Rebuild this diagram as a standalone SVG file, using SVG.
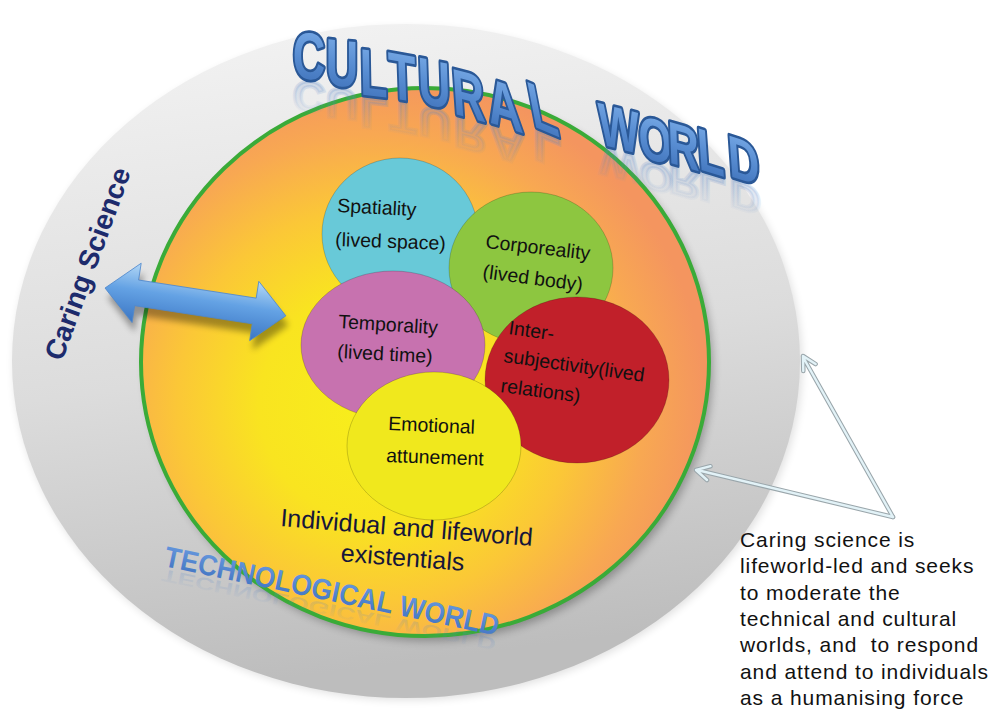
<svg xmlns="http://www.w3.org/2000/svg" width="994" height="710" viewBox="0 0 994 710">
<defs>
<style>
.lbl{font-family:"Liberation Sans",Arial,sans-serif;font-size:19.5px;fill:#111}
.ttl{font-family:"Liberation Sans",Arial,sans-serif;font-weight:bold;font-size:66px;fill:url(#titleG);stroke:#2a5897;stroke-width:5.5;stroke-linejoin:round;paint-order:stroke;text-anchor:middle}
.rfl{font-family:"Liberation Sans",Arial,sans-serif;font-weight:bold;font-size:66px;fill:url(#reflG);stroke:url(#reflG);stroke-width:5;text-anchor:middle}
.w{font-size:60px}
.note{font-family:"Liberation Sans",Arial,sans-serif;font-size:21px;letter-spacing:0.9px;fill:#111}
.ex{font-family:"Liberation Sans",Arial,sans-serif;font-size:25px;fill:#16163a;text-anchor:middle}
.ptr-o{fill:none;stroke:#9aa6ab;stroke-width:4.5;stroke-linecap:round;stroke-linejoin:round}
.ptr-i{fill:none;stroke:#e2f2f7;stroke-width:2.4;stroke-linecap:round;stroke-linejoin:round}
.circ{stroke:rgba(0,0,0,0.18);stroke-width:1}
</style>
<linearGradient id="grayG" x1="0" y1="0" x2="0.15" y2="1">
<stop offset="0" stop-color="#f4f4f4"/>
<stop offset="0.55" stop-color="#dcdcdc"/>
<stop offset="1" stop-color="#bdbdbd"/>
</linearGradient>
<radialGradient id="ringG" gradientUnits="userSpaceOnUse" cx="375" cy="405" r="330">
<stop offset="0" stop-color="#f7ef1b"/>
<stop offset="0.35" stop-color="#f9e420"/>
<stop offset="0.6" stop-color="#fbc737"/>
<stop offset="0.82" stop-color="#f8a852"/>
<stop offset="1" stop-color="#f4955f"/>
</radialGradient>
<linearGradient id="titleG" x1="0" y1="0" x2="0" y2="1">
<stop offset="0" stop-color="#7fb0ea"/>
<stop offset="0.5" stop-color="#588dd2"/>
<stop offset="1" stop-color="#3c6eb6"/>
</linearGradient>
<linearGradient id="reflG" x1="0" y1="0" x2="0" y2="1">
<stop offset="0" stop-color="#5a86c6" stop-opacity="0"/>
<stop offset="1" stop-color="#5a86c6" stop-opacity="0.26"/>
</linearGradient>
<linearGradient id="techG" x1="0" y1="0" x2="0" y2="1">
<stop offset="0" stop-color="#6a9be0"/>
<stop offset="1" stop-color="#3f72c0"/>
</linearGradient>
<linearGradient id="arrowG" x1="0" y1="0" x2="0" y2="1">
<stop offset="0" stop-color="#b4d8f6"/>
<stop offset="0.45" stop-color="#64a2e4"/>
<stop offset="1" stop-color="#3b76c4"/>
</linearGradient>
<filter id="blur4" x="-20%" y="-20%" width="140%" height="140%"><feGaussianBlur stdDeviation="4"/></filter>
<filter id="blur3" x="-20%" y="-20%" width="140%" height="140%"><feGaussianBlur stdDeviation="3"/></filter>
</defs>

<g id="outer-world">
<ellipse cx="408" cy="364" rx="394" ry="336" fill="#000" opacity="0.12" filter="url(#blur4)"/>
<ellipse cx="406" cy="361" rx="394" ry="337" fill="url(#grayG)"/>
</g>

<g id="lifeworld-ring">
<ellipse cx="429" cy="367" rx="284" ry="274" fill="#000" opacity="0.28" filter="url(#blur4)"/>
<ellipse cx="425" cy="362" rx="284" ry="274" fill="url(#ringG)" stroke="#3aab38" stroke-width="4"/>
</g>

<g id="cultural-world-title">
<g>
<text class="rfl" transform="matrix(0.68,0.0447,0,-0.65,309,82)">C</text>
<text class="rfl" transform="matrix(0.68,0.0673,0,-0.65,342,89)">U</text>
<text class="rfl" transform="matrix(0.68,0.0786,0,-0.65,374,99)">L</text>
<text class="rfl" transform="matrix(0.68,0.1244,0,-0.65,403,103)">T</text>
<text class="rfl" transform="matrix(0.68,0.1478,0,-0.65,435,109)">U</text>
<text class="rfl" transform="matrix(0.68,0.1835,0,-0.65,470,121)">R</text>
<text class="rfl" transform="matrix(0.72,0.2322,0,-0.65,507,131)">A</text>
<text class="rfl" transform="matrix(0.68,0.2849,0,-0.65,547,135)">L</text>
<text class="rfl w" transform="matrix(0.72,0.1795,0,-0.65,620,152)">W</text>
<text class="rfl w" transform="matrix(0.72,0.1929,0,-0.65,656,164)">O</text>
<text class="rfl w" transform="matrix(0.72,0.2064,0,-0.65,684,170)">R</text>
<text class="rfl w" transform="matrix(0.72,0.2201,0,-0.65,712,176)">L</text>
<text class="rfl w" transform="matrix(0.72,0.2339,0,-0.65,745,184)">D</text>
</g>
<g>
<text class="ttl" transform="matrix(0.68,0.0447,0,1,309,79)">C</text>
<text class="ttl" transform="matrix(0.68,0.0673,0,1,342,86)">U</text>
<text class="ttl" transform="matrix(0.68,0.0786,0.0175,1,374,96)">L</text>
<text class="ttl" transform="matrix(0.68,0.1244,0.0349,1,403,100)">T</text>
<text class="ttl" transform="matrix(0.68,0.1478,0.0349,1,435,106)">U</text>
<text class="ttl" transform="matrix(0.68,0.1835,0.0699,1,470,118)">R</text>
<text class="ttl" transform="matrix(0.72,0.2322,0.1228,1,507,128)">A</text>
<text class="ttl" transform="matrix(0.68,0.2849,0.1944,1,547,132)">L</text>
<text class="ttl w" transform="matrix(0.72,0.1795,0.0524,1,620,149)">W</text>
<text class="ttl w" transform="matrix(0.72,0.1929,0.0349,1,656,161)">O</text>
<text class="ttl w" transform="matrix(0.72,0.2064,0.0349,1,684,167)">R</text>
<text class="ttl w" transform="matrix(0.72,0.2201,0.0699,1,712,173)">L</text>
<text class="ttl w" transform="matrix(0.72,0.2339,0.0699,1,745,181)">D</text>
</g>
</g>

<g id="spatiality">
<ellipse class="circ" cx="400" cy="234" rx="78" ry="76" fill="#68c9d8"/>
<text class="lbl" transform="translate(337,212) rotate(3)">Spatiality</text>
<text class="lbl" transform="translate(335,246) rotate(2)">(lived space)</text>
</g>

<g id="corporeality">
<ellipse class="circ" cx="531" cy="268" rx="82" ry="76" fill="#8dc640"/>
<text class="lbl" transform="translate(485,248) rotate(6.5)">Corporeality</text>
<text class="lbl" transform="translate(482,278) rotate(7.5)">(lived body)</text>
</g>

<g id="temporality">
<ellipse class="circ" cx="393" cy="345" rx="92" ry="74" fill="#c772af"/>
<text class="lbl" transform="translate(338,328) rotate(3.5)">Temporality</text>
<text class="lbl" transform="translate(337,358) rotate(3)">(lived time)</text>
</g>

<g id="intersubjectivity">
<ellipse class="circ" cx="577" cy="380" rx="92" ry="83" fill="#c1202a"/>
<text class="lbl" transform="translate(508,334) rotate(8)">Inter-</text>
<text class="lbl" transform="translate(503,362) rotate(8)">subjectivity(lived</text>
<text class="lbl" transform="translate(500,392) rotate(7.5)">relations)</text>
</g>

<g id="emotional-attunement">
<ellipse class="circ" cx="434" cy="446" rx="87" ry="74" fill="#f0e81d"/>
<text class="lbl" transform="translate(388,430) rotate(2.5)">Emotional</text>
<text class="lbl" transform="translate(386,462) rotate(2)">attunement</text>
</g>

<g id="existentials-label">
<text class="ex" transform="translate(406,536) rotate(4.5)">Individual and lifeworld</text>
<text class="ex" transform="translate(402,566) rotate(4.5)">existentials</text>
</g>

<g id="technological-world">
<text transform="translate(163,569) rotate(11.8) scale(1,-0.6)" font-family="Liberation Sans, Arial, sans-serif" font-weight="bold" font-size="29" fill="url(#reflG)" textLength="341" lengthAdjust="spacingAndGlyphs">TECHNOLOGICAL WORLD</text>
<text transform="translate(163,566) rotate(11.8)" font-family="Liberation Sans, Arial, sans-serif" font-weight="bold" font-size="29" fill="url(#techG)" textLength="341" lengthAdjust="spacingAndGlyphs">TECHNOLOGICAL WORLD</text>
</g>

<g id="caring-science">
<text transform="translate(62,362) rotate(-70)" font-family="Liberation Sans, Arial, sans-serif" font-weight="bold" font-size="28" fill="#1d2b6c">Caring Science</text>
</g>

<g id="connectors">
<g id="double-arrow" transform="translate(105,288) rotate(8.75)">
<polygon transform="translate(4,9)" points="0,0 32,-30 32,-13 151,-13 151,-30 183,0 151,30 151,13 32,13 32,30" fill="#000" opacity="0.35" filter="url(#blur3)"/>
<polygon points="0,0 32,-30 32,-13 151,-13 151,-30 183,0 151,30 151,13 32,13 32,30" fill="url(#arrowG)" stroke="#4f88cc" stroke-width="0.8"/>
</g>
<g id="note-arrows">
<path class="ptr-o" d="M893,517 L803,357 M815.6,364.1 L803,356 L803.3,371"/>
<path class="ptr-o" d="M893,517 L697,470 M710.5,466.2 L696,470 L707,480"/>
<path class="ptr-i" d="M893,517 L803,357 M815.6,364.1 L803,356 L803.3,371"/>
<path class="ptr-i" d="M893,517 L697,470 M710.5,466.2 L696,470 L707,480"/>
</g>
</g>

<g id="note">
<text class="note" x="740" y="547">Caring science is</text>
<text class="note" x="740" y="573.3">lifeworld-led and seeks</text>
<text class="note" x="740" y="599.6">to moderate the</text>
<text class="note" x="740" y="625.9">technical and cultural</text>
<text class="note" x="740" y="652.2" xml:space="preserve">worlds, and  to respond</text>
<text class="note" x="740" y="678.5">and attend to individuals</text>
<text class="note" x="740" y="704.8">as a humanising force</text>
</g>
</svg>
